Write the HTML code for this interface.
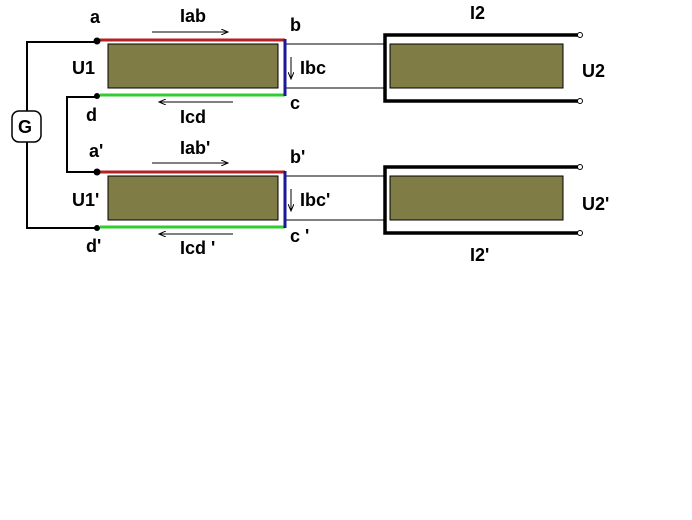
<!DOCTYPE html>
<html><head><style>
body{margin:0;background:#fff;}
svg text{font-family:"Liberation Sans",Arial,sans-serif;font-weight:bold;font-size:18px;fill:#000;}
</style></head><body>
<svg width="692" height="515" xmlns="http://www.w3.org/2000/svg">
<defs><marker id="ar" markerWidth="8" markerHeight="6" refX="7" refY="3" orient="auto"><path d="M0,0 L7,3 L0,6" fill="none" stroke="#000" stroke-width="1"/></marker></defs>
<rect x="0" y="0" width="692" height="515" fill="#fff"/>
<g stroke="#000" stroke-width="2" fill="none">
<path d="M97,42 H27 V228 H97"/>
<path d="M97,97 H67 V172 H97"/>
</g>
<rect x="12" y="111" width="29" height="31" rx="7" fill="#fff" stroke="#000" stroke-width="1.5"/>
<text x="18" y="133">G</text>
<rect x="108" y="44" width="170" height="44" fill="#7f7d45" stroke="#000" stroke-width="1"/>
<line x1="285" y1="44" x2="386" y2="44" stroke="#000" stroke-width="1"/>
<line x1="285" y1="88" x2="386" y2="88" stroke="#000" stroke-width="1"/>
<line x1="100" y1="40" x2="285" y2="40" stroke="#b22222" stroke-width="3"/>
<line x1="100" y1="95" x2="285" y2="95" stroke="#33cc33" stroke-width="3"/>
<line x1="285" y1="39" x2="285" y2="96" stroke="#1a1a99" stroke-width="3"/>
<circle cx="97" cy="41" r="3.5" fill="#000"/><circle cx="97" cy="96" r="3" fill="#000"/>
<line x1="152" y1="32" x2="228" y2="32" stroke="#000" stroke-width="1" marker-end="url(#ar)"/>
<line x1="233" y1="102" x2="159" y2="102" stroke="#000" stroke-width="1" marker-end="url(#ar)"/>
<line x1="291" y1="57" x2="291" y2="79" stroke="#000" stroke-width="1" marker-end="url(#ar)"/>
<rect x="390" y="44" width="173" height="44" fill="#7f7d45" stroke="#000" stroke-width="1"/>
<path d="M580,35 H385 V101 H580" fill="none" stroke="#000" stroke-width="3.5"/>
<circle cx="580" cy="35" r="2.5" fill="#fff" stroke="#000"/><circle cx="580" cy="101" r="2.5" fill="#fff" stroke="#000"/>
<rect x="108" y="176" width="170" height="44" fill="#7f7d45" stroke="#000" stroke-width="1"/>
<line x1="285" y1="176" x2="386" y2="176" stroke="#000" stroke-width="1"/>
<line x1="285" y1="220" x2="386" y2="220" stroke="#000" stroke-width="1"/>
<line x1="100" y1="172" x2="285" y2="172" stroke="#b22222" stroke-width="3"/>
<line x1="100" y1="227" x2="285" y2="227" stroke="#33cc33" stroke-width="3"/>
<line x1="285" y1="171" x2="285" y2="228" stroke="#1a1a99" stroke-width="3"/>
<circle cx="97" cy="172" r="3.5" fill="#000"/><circle cx="97" cy="228" r="3" fill="#000"/>
<line x1="152" y1="163" x2="228" y2="163" stroke="#000" stroke-width="1" marker-end="url(#ar)"/>
<line x1="233" y1="234" x2="159" y2="234" stroke="#000" stroke-width="1" marker-end="url(#ar)"/>
<line x1="291" y1="189" x2="291" y2="211" stroke="#000" stroke-width="1" marker-end="url(#ar)"/>
<rect x="390" y="176" width="173" height="44" fill="#7f7d45" stroke="#000" stroke-width="1"/>
<path d="M580,167 H385 V233 H580" fill="none" stroke="#000" stroke-width="3.5"/>
<circle cx="580" cy="167" r="2.5" fill="#fff" stroke="#000"/><circle cx="580" cy="233" r="2.5" fill="#fff" stroke="#000"/>
<text x="90" y="23">a</text>
<text x="180" y="22">Iab</text>
<text x="290" y="31">b</text>
<text x="72" y="74">U1</text>
<text x="300" y="74">Ibc</text>
<text x="290" y="109">c</text>
<text x="86" y="121">d</text>
<text x="180" y="123">Icd</text>
<text x="470" y="19">I2</text>
<text x="582" y="77">U2</text>
<text x="89" y="157">a'</text>
<text x="180" y="154">Iab'</text>
<text x="290" y="163">b'</text>
<text x="72" y="206">U1'</text>
<text x="300" y="206">Ibc'</text>
<text x="290" y="242">c '</text>
<text x="86" y="252">d'</text>
<text x="180" y="254">Icd '</text>
<text x="470" y="261">I2'</text>
<text x="582" y="210">U2'</text>
</svg>
</body></html>
